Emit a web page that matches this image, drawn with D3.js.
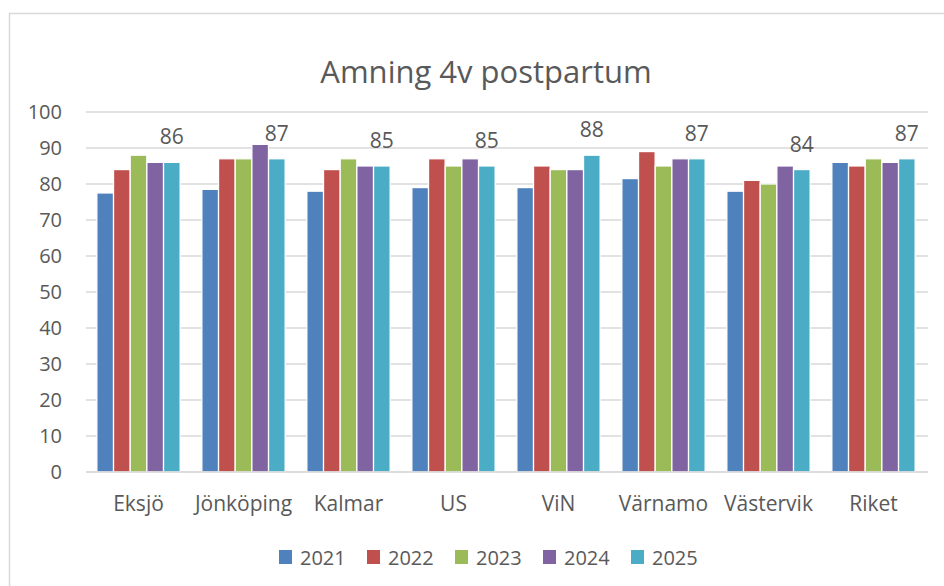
<!DOCTYPE html>
<html>
<head>
<meta charset="utf-8">
<script src="https://cdn.jsdelivr.net/npm/d3@7"></script>
<style>
  body { margin: 0; background: #fff; }
  text { font-family: "Open Sans", sans-serif; fill: #595959; }
</style>
</head>
<body>
<svg id="chart"></svg>
<script>
// data
var categories = ["Eksjö", "Jönköping", "Kalmar", "US", "ViN", "Värnamo", "Västervik", "Riket"];
var years = ["2021", "2022", "2023", "2024", "2025"];
var v2021 = [77.5, 78.5, 78, 79, 79, 81.5, 78, 86];
var v2022 = [84, 87, 84, 87, 85, 89, 81, 85];
var v2023 = [88, 87, 87, 85, 84, 85, 80, 87];
var v2024 = [86, 91, 85, 87, 84, 87, 85, 86];
var v2025 = [86, 87, 85, 85, 88, 87, 84, 87];
var yTicks = [0, 10, 20, 30, 40, 50, 60, 70, 80, 90, 100];
var colors = ["#4F81BD", "#C0504D", "#9BBB59", "#8064A2", "#4BACC6"];

var series = [v2021, v2022, v2023, v2024, v2025];

var width = 944, height = 586;
var svg = d3.select("#chart").attr("width", width).attr("height", height);

// outer chart border (runs off the right/bottom edge)
svg.append("rect")
   .attr("x", 9.5).attr("y", 13.5)
   .attr("width", 960).attr("height", 600)
   .attr("fill", "none").attr("stroke", "#D9D9D9").attr("stroke-width", 1.5);

svg.append("text")
   .attr("x", 486).attr("y", 83)
   .attr("text-anchor", "middle")
   .style("font-size", "31px")
   .text("Amning 4v postpartum");

var x0 = d3.scaleBand().domain(categories).range([86, 926]).paddingInner(0.238).paddingOuter(0.119);
var x1 = d3.scaleBand().domain(years).range([0, x0.bandwidth()]).paddingInner(0.2);
var y = d3.scaleLinear().domain([0, 100]).range([472, 112]);

// gridlines
svg.append("g").selectAll("line")
   .data(yTicks).enter().append("line")
   .attr("x1", 86).attr("x2", 928)
   .attr("y1", function(d) { return y(d); })
   .attr("y2", function(d) { return y(d); })
   .attr("stroke", "#D9D9D9").attr("stroke-width", 1.5);

// y tick labels
svg.append("g").selectAll("text")
   .data(yTicks).enter().append("text")
   .attr("x", 62)
   .attr("y", function(d) { return y(d) + 7; })
   .attr("text-anchor", "end")
   .style("font-size", "20px")
   .text(function(d) { return d; });

// bars
var groups = svg.append("g").selectAll("g")
   .data(categories).enter().append("g")
   .attr("transform", function(d) { return "translate(" + x0(d) + ",0)"; });

groups.selectAll("rect")
   .data(function(d, i) { return years.map(function(yr, j) { return { year: yr, value: series[j][i], j: j }; }); })
   .enter().append("rect")
   .attr("x", function(d) { return x1(d.year) - 1.6; })
   .attr("width", x1.bandwidth() + 3.2)
   .attr("y", function(d) { return y(d.value); })
   .attr("height", function(d) { return y(0) - y(d.value); })
   .attr("fill", function(d) { return colors[d.j]; })
   .attr("stroke", "#fff").attr("stroke-width", 1.2);

// data labels on 2025
groups.append("text")
   .attr("x", function(d) { return x1("2025") + x1.bandwidth() / 2; })
   .attr("y", function(d, i) { return y(v2025[i]) - 18; })
   .attr("text-anchor", "middle")
   .style("font-size", "21px")
   .text(function(d, i) { return v2025[i]; });

// baseline
svg.append("line")
   .attr("x1", 86).attr("x2", 928)
   .attr("y1", y(0)).attr("y2", y(0))
   .attr("stroke", "#D9D9D9").attr("stroke-width", 1.5);

// category labels
svg.append("g").selectAll("text")
   .data(categories).enter().append("text")
   .attr("x", function(d) { return x0(d) + x0.bandwidth() / 2; })
   .attr("y", 511)
   .attr("text-anchor", "middle")
   .style("font-size", "21px")
   .text(function(d) { return d; });

// legend
var legend = svg.append("g").selectAll("g")
   .data(years).enter().append("g")
   .attr("transform", function(d, i) { return "translate(" + (279 + i * 88) + ",550)"; });
legend.append("rect")
   .attr("width", 13).attr("height", 14)
   .attr("fill", function(d, i) { return colors[i]; });
legend.append("text")
   .attr("x", 21).attr("y", 15)
   .style("font-size", "20px")
   .text(function(d) { return d; });
</script>
</body>
</html>
